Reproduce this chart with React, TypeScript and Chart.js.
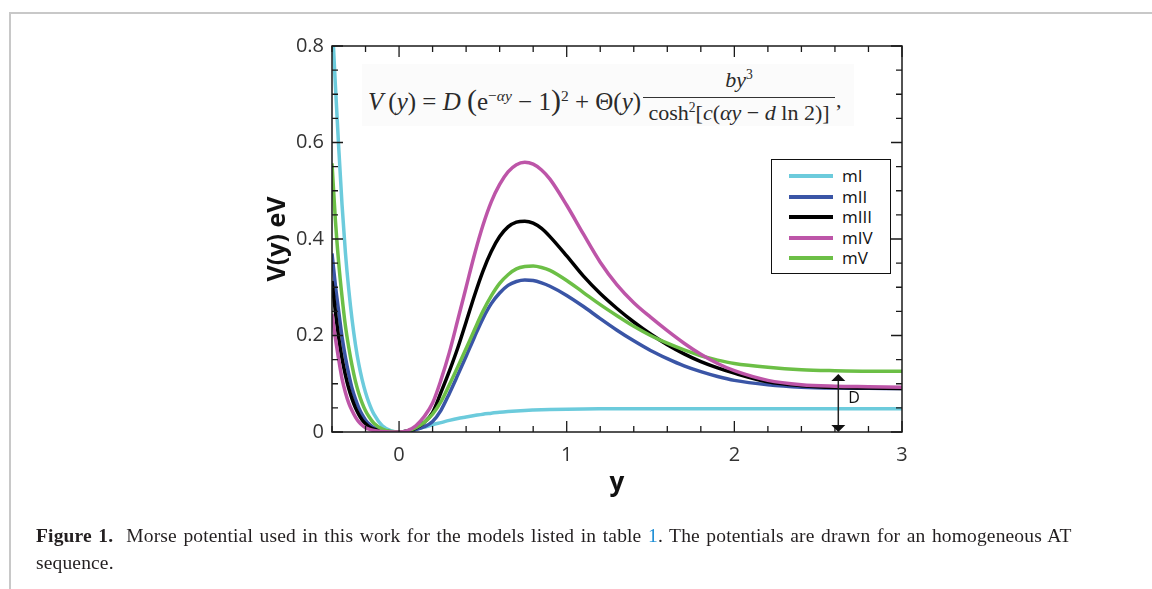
import React, { useEffect, useRef } from "react";
import { Chart, registerables } from "chart.js";
Chart.register(...registerables);

// ---- data ----
const xValues = [
  -0.4, -0.38, -0.36, -0.34, -0.32, -0.3, -0.28, -0.26, -0.24, -0.22, -0.2, -0.18, -0.15, -0.1, -0.05,
  0, 0.05, 0.1, 0.15, 0.2, 0.25, 0.3, 0.35, 0.4, 0.45, 0.5, 0.55, 0.6, 0.65, 0.7, 0.75, 0.8, 0.85, 0.9,
  1.0, 1.1, 1.2, 1.3, 1.4, 1.5, 1.6, 1.7, 1.8, 1.9, 2.0, 2.2, 2.4, 2.6, 2.8, 3.0,
];

const mI = [
  0.86, 0.72, 0.59, 0.47, 0.372, 0.295, 0.232, 0.181, 0.14, 0.108, 0.082, 0.061, 0.037, 0.013, 0.003,
  0, 0.0015, 0.0055, 0.01, 0.015, 0.0195, 0.024, 0.028, 0.031, 0.034, 0.037, 0.039, 0.041, 0.0425, 0.0437, 0.0447, 0.0455, 0.0462, 0.0467,
  0.0474, 0.0478, 0.048, 0.048, 0.048, 0.048, 0.048, 0.048, 0.048, 0.048, 0.048, 0.048, 0.048, 0.048, 0.048, 0.048,
];

const mII = [
  0.37, 0.305, 0.25, 0.197, 0.155, 0.12, 0.09, 0.068, 0.05, 0.036, 0.025, 0.017, 0.009, 0.003, 0.0007,
  0, 0.0015, 0.005, 0.011, 0.022, 0.045, 0.08, 0.118, 0.157, 0.197, 0.235, 0.266, 0.288, 0.304, 0.312, 0.315, 0.314, 0.309, 0.302,
  0.283, 0.26, 0.235, 0.211, 0.189, 0.169, 0.152, 0.137, 0.125, 0.115, 0.107, 0.098, 0.093, 0.091, 0.0905, 0.09,
];

const mIII = [
  0.313, 0.25, 0.195, 0.152, 0.118, 0.09, 0.068, 0.05, 0.036, 0.025, 0.017, 0.011, 0.006, 0.002, 0.0005,
  0, 0.002, 0.008, 0.02, 0.04, 0.082, 0.126, 0.174, 0.228, 0.283, 0.333, 0.374, 0.405, 0.425, 0.435, 0.437, 0.433, 0.422, 0.405,
  0.365, 0.323, 0.287, 0.256, 0.228, 0.203, 0.181, 0.162, 0.146, 0.133, 0.122, 0.104, 0.096, 0.092, 0.091, 0.09,
];

const mIV = [
  0.245, 0.195, 0.15, 0.11, 0.082, 0.06, 0.044, 0.031, 0.021, 0.014, 0.009, 0.006, 0.003, 0.001, 0.0002,
  0, 0.003, 0.013, 0.032, 0.06, 0.108, 0.165, 0.232, 0.3, 0.368, 0.428, 0.477, 0.513, 0.539, 0.554, 0.559, 0.555, 0.543, 0.524,
  0.47, 0.41, 0.352, 0.305, 0.268, 0.238, 0.21, 0.184, 0.161, 0.142, 0.127, 0.107, 0.098, 0.095, 0.094, 0.093,
];

const mV = [
  0.557, 0.44, 0.35, 0.28, 0.22, 0.175, 0.137, 0.105, 0.08, 0.06, 0.044, 0.032, 0.018, 0.006, 0.001,
  0, 0.002, 0.009, 0.02, 0.037, 0.063, 0.098, 0.135, 0.173, 0.212, 0.25, 0.282, 0.308, 0.326, 0.338, 0.343, 0.344, 0.341, 0.335,
  0.314, 0.289, 0.264, 0.241, 0.219, 0.2, 0.184, 0.17, 0.158, 0.149, 0.142, 0.134, 0.129, 0.127, 0.126, 0.126,
];

const seriesNames = ["mI", "mII", "mIII", "mIV", "mV"];
const seriesValues = [mI, mII, mIII, mIV, mV];
const seriesColors = ["#6ccbdc", "#3a55a6", "#000000", "#bd55a8", "#6cbf46"];
const seriesOrder = [4, 3, 2, 0, 1];

const xTicks = [0, 1, 2, 3];
const yTicks = [0, 0.2, 0.4, 0.6, 0.8];
const xRange = [-0.4, 3];
const yRange = [0, 0.8];
const xMinorStep = 0.2;
const yMinorStep = 0.05;
const yMajorStep = 0.2;

const xTitle = "y";
const yTitle = "V(y) eV";
const arrowAt = 2.62;
const arrowTop = 0.12;
const arrowLabel = "D";

const FONT = "'Open Sans', 'DejaVu Sans', sans-serif";
const SERIF = "'Liberation Serif', serif";

const framePlugin = {
  id: "frameTicks",
  afterDatasetsDraw(chart: any) {
    const { ctx, chartArea: a, scales } = chart;
    const xs = scales.x;
    const ys = scales.y;
    ctx.save();
    ctx.strokeStyle = "#1a1a1a";
    ctx.lineWidth = 1.5;
    ctx.strokeRect(a.left, a.top, a.right - a.left, a.bottom - a.top);

    ctx.lineWidth = 1.3;
    ctx.beginPath();
    const nx = Math.round((xRange[1] - xRange[0]) / xMinorStep);
    for (let i = 0; i <= nx; i++) {
      const v = xRange[0] + i * xMinorStep;
      const major = Math.abs(v - Math.round(v)) < 1e-6;
      const len = major ? 11 : 6;
      const px = xs.getPixelForValue(v);
      ctx.moveTo(px, a.bottom);
      ctx.lineTo(px, a.bottom - len);
      ctx.moveTo(px, a.top);
      ctx.lineTo(px, a.top + len);
    }
    const ny = Math.round((yRange[1] - yRange[0]) / yMinorStep);
    for (let i = 0; i <= ny; i++) {
      const v = yRange[0] + i * yMinorStep;
      const major = Math.abs(v / yMajorStep - Math.round(v / yMajorStep)) < 1e-6;
      const len = major ? 11 : 6;
      const py = ys.getPixelForValue(v);
      ctx.moveTo(a.left, py);
      ctx.lineTo(a.left + len, py);
      ctx.moveTo(a.right, py);
      ctx.lineTo(a.right - len, py);
    }
    ctx.stroke();

    // D arrow
    const ax = xs.getPixelForValue(arrowAt);
    const top = ys.getPixelForValue(arrowTop);
    const bot = ys.getPixelForValue(0);
    ctx.strokeStyle = "#222";
    ctx.fillStyle = "#111";
    ctx.lineWidth = 1.5;
    ctx.beginPath();
    ctx.moveTo(ax, top + 3);
    ctx.lineTo(ax, bot - 3);
    ctx.stroke();
    ctx.beginPath();
    ctx.moveTo(ax, top);
    ctx.lineTo(ax - 7, top + 7);
    ctx.lineTo(ax + 7, top + 7);
    ctx.closePath();
    ctx.fill();
    ctx.beginPath();
    ctx.moveTo(ax, bot);
    ctx.lineTo(ax - 7, bot - 7);
    ctx.lineTo(ax + 7, bot - 7);
    ctx.closePath();
    ctx.fill();
    ctx.font = `16px ${FONT}`;
    ctx.textBaseline = "middle";
    ctx.textAlign = "left";
    ctx.fillText(arrowLabel, ax + 10, (top + bot) / 2 - 5);
    ctx.restore();
  },
};

function ChartCanvas() {
  const ref = useRef<HTMLCanvasElement | null>(null);
  useEffect(() => {
    if (!ref.current) return;
    const chart = new Chart(ref.current, {
      type: "line",
      data: {
        datasets: seriesNames.map((name, k) => ({
          label: name,
          data: xValues.map((x, i) => ({ x, y: seriesValues[k][i] })),
          borderColor: seriesColors[k],
          backgroundColor: seriesColors[k],
          borderWidth: 3.5,
          pointRadius: 0,
          fill: false,
          order: seriesOrder[k],
          cubicInterpolationMode: "monotone" as const,
        })),
      },
      options: {
        responsive: false,
        animation: false,
        events: [],
        layout: { padding: { left: 263, top: 46, right: 250, bottom: 89.4 } },
        plugins: { legend: { display: false }, tooltip: { enabled: false } },
        scales: {
          x: {
            type: "linear",
            min: xRange[0],
            max: xRange[1],
            grid: { display: false, drawTicks: false },
            border: { display: false },
            afterBuildTicks: (s: any) => {
              s.ticks = xTicks.map((v) => ({ value: v }));
            },
            afterFit: (s: any) => {
              s.height = 67.6;
            },
            ticks: {
              padding: 11,
              color: "#333",
              font: { family: FONT, size: 20 },
              callback: (v: any) => String(v),
              maxRotation: 0,
            },
            title: {
              display: true,
              text: xTitle,
              color: "#111",
              font: { family: FONT, size: 26, weight: "bold" },
              padding: { top: 0, bottom: 0 },
            },
          },
          y: {
            type: "linear",
            min: yRange[0],
            max: yRange[1],
            grid: { display: false, drawTicks: false },
            border: { display: false },
            afterBuildTicks: (s: any) => {
              s.ticks = yTicks.map((v) => ({ value: v }));
            },
            afterFit: (s: any) => {
              s.width = 69;
            },
            ticks: {
              padding: 8,
              color: "#333",
              font: { family: FONT, size: 20 },
              callback: (v: any) => (Number(v) === 0 ? "0" : Number(v).toFixed(1)),
            },
            title: {
              display: true,
              text: yTitle,
              color: "#111",
              font: { family: FONT, size: 25, weight: "bold" },
              padding: { top: 0, bottom: 0 },
            },
          },
        },
      },
      plugins: [framePlugin],
    } as any);
    return () => chart.destroy();
  }, []);
  return (
    <canvas
      ref={ref}
      width={1152}
      height={589}
      style={{ position: "absolute", left: 0, top: 0, width: 1152, height: 589 }}
    />
  );
}

const supStyle: React.CSSProperties = { fontSize: "0.62em", verticalAlign: "0.6em", lineHeight: 0 };

export default function App() {
  return (
    <div style={{ position: "absolute", left: 0, top: 0, width: 1152, height: 589, overflow: "hidden", background: "#fff" }}>
      <div
        style={{
          position: "absolute",
          left: 9,
          top: 12,
          right: -5,
          bottom: -5,
          borderTop: "2px solid #c8c8c8",
          borderLeft: "2px solid #c8c8c8",
        }}
      />
      <ChartCanvas />
      {/* formula */}
      <div style={{ position: "absolute", left: 362, top: 64, width: 492, height: 62, background: "#fbfbfb" }} />
      <div
        style={{
          position: "absolute",
          left: 368,
          top: 84,
          height: 32,
          lineHeight: "32px",
          fontFamily: SERIF,
          fontSize: 25,
          color: "#2a2a2a",
          whiteSpace: "nowrap",
        }}
      >
        <i>V</i>&thinsp;(<i>y</i>) = <i>D</i> <span style={{ fontSize: "1.2em" }}>(</span>e
        <sup style={supStyle}>
          −<i>αy</i>
        </sup>{" "}
        − 1<span style={{ fontSize: "1.2em" }}>)</span>
        <sup style={supStyle}>2</sup> + Θ(<i>y</i>)
      </div>
      <div
        style={{
          position: "absolute",
          left: 643,
          width: 192,
          top: 67,
          lineHeight: "26px",
          textAlign: "center",
          fontFamily: SERIF,
          fontSize: 22,
          color: "#2a2a2a",
          whiteSpace: "nowrap",
        }}
      >
        <i>by</i>
        <sup style={supStyle}>3</sup>
      </div>
      <div style={{ position: "absolute", left: 643, top: 97, width: 192, height: 1, background: "#333" }} />
      <div
        style={{
          position: "absolute",
          left: 643,
          width: 192,
          top: 100,
          lineHeight: "26px",
          textAlign: "center",
          fontFamily: SERIF,
          fontSize: 22,
          color: "#2a2a2a",
          whiteSpace: "nowrap",
        }}
      >
        cosh<sup style={supStyle}>2</sup>[<i>c</i>(<i>αy</i> − <i>d</i> ln 2)]
      </div>
      <div
        style={{
          position: "absolute",
          left: 836,
          top: 85,
          lineHeight: "30px",
          fontFamily: SERIF,
          fontSize: 22,
          color: "#2a2a2a",
        }}
      >
        ,
      </div>
      {/* legend */}
      <div
        style={{
          position: "absolute",
          left: 771,
          top: 159,
          width: 118,
          height: 113,
          border: "1.5px solid #111",
          background: "#fff",
        }}
      />
      {seriesNames.map((name, k) => (
        <React.Fragment key={name}>
          <div
            style={{
              position: "absolute",
              left: 789,
              top: 176 + k * 20.6 - 2,
              width: 44,
              height: 4,
              background: seriesColors[k],
            }}
          />
          <div
            style={{
              position: "absolute",
              left: 842,
              top: 176 + k * 20.6 - 12,
              height: 24,
              lineHeight: "24px",
              fontFamily: FONT,
              fontSize: 17,
              color: "#111",
              whiteSpace: "nowrap",
            }}
          >
            {name}
          </div>
        </React.Fragment>
      ))}
      {/* caption */}
      <div
        style={{
          position: "absolute",
          left: 36,
          top: 522,
          fontFamily: SERIF,
          fontSize: 19.5,
          letterSpacing: "0.15px",
          wordSpacing: "1.5px",
          lineHeight: "27px",
          color: "#231f20",
          whiteSpace: "nowrap",
        }}
      >
        <b>Figure 1.</b>&nbsp;&nbsp;Morse potential used in this work for the models listed in table{" "}
        <span style={{ color: "#1e8fd6" }}>1</span>. The potentials are drawn for an homogeneous AT
        <br />
        sequence.
      </div>
    </div>
  );
}
